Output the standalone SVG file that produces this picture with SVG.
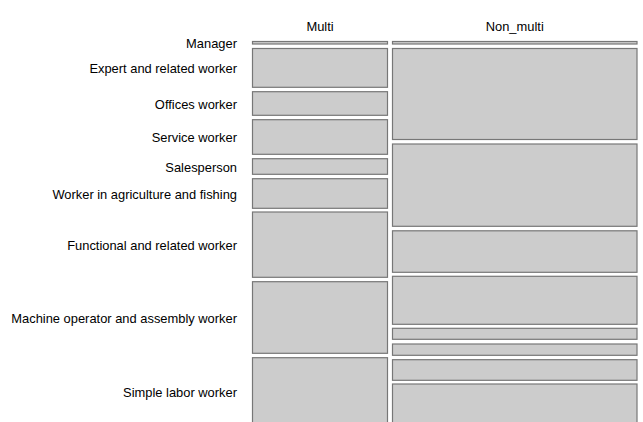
<svg xmlns="http://www.w3.org/2000/svg" width="643" height="422" viewBox="0 0 643 422">
<style>
.c{fill:#cccccc;stroke:#777777;stroke-width:1.2}
.t{font-family:"Liberation Sans",Arial,sans-serif;font-size:12.9px;fill:#000}
.r{text-anchor:end}
.m{text-anchor:middle}
</style>
<rect width="643" height="422" fill="#ffffff"/>
<g id="headers">
<text class="t m" x="320" y="31">Multi</text>
<text class="t m" x="514.75" y="31">Non_multi</text>
</g>
<g id="labels">
<text class="t r" x="237" y="47.5">Manager</text>
<text class="t r" x="237" y="73">Expert and related worker</text>
<text class="t r" x="237" y="108.5">Offices worker</text>
<text class="t r" x="237" y="142">Service worker</text>
<text class="t r" x="237" y="171.5">Salesperson</text>
<text class="t r" x="237" y="198.5">Worker in agriculture and fishing</text>
<text class="t r" x="237" y="250">Functional and related worker</text>
<text class="t r" x="237" y="322.5">Machine operator and assembly worker</text>
<text class="t r" x="237" y="397">Simple labor worker</text>
</g>
<g id="multi">
<rect class="c" x="252.5" y="41.5" width="135" height="2.5"/>
<rect class="c" x="252.5" y="48.5" width="135" height="38.8"/>
<rect class="c" x="252.5" y="91.7" width="135" height="23.6"/>
<rect class="c" x="252.5" y="119.7" width="135" height="34.6"/>
<rect class="c" x="252.5" y="158.7" width="135" height="15.6"/>
<rect class="c" x="252.5" y="178.7" width="135" height="29.6"/>
<rect class="c" x="252.5" y="212" width="135" height="65.3"/>
<rect class="c" x="252.5" y="281.7" width="135" height="71.6"/>
<rect class="c" x="252.5" y="357.7" width="135" height="68.3"/>
</g>
<g id="non_multi">
<rect class="c" x="392.5" y="41.5" width="244.5" height="2.5"/>
<rect class="c" x="392.5" y="48.5" width="244.5" height="91"/>
<rect class="c" x="392.5" y="144" width="244.5" height="82.3"/>
<rect class="c" x="392.5" y="230.8" width="244.5" height="41.5"/>
<rect class="c" x="392.5" y="276.3" width="244.5" height="48"/>
<rect class="c" x="392.5" y="328.3" width="244.5" height="11"/>
<rect class="c" x="392.5" y="344" width="244.5" height="11.3"/>
<rect class="c" x="392.5" y="359.7" width="244.5" height="20.6"/>
<rect class="c" x="392.5" y="384" width="244.5" height="42"/>
</g>
</svg>
